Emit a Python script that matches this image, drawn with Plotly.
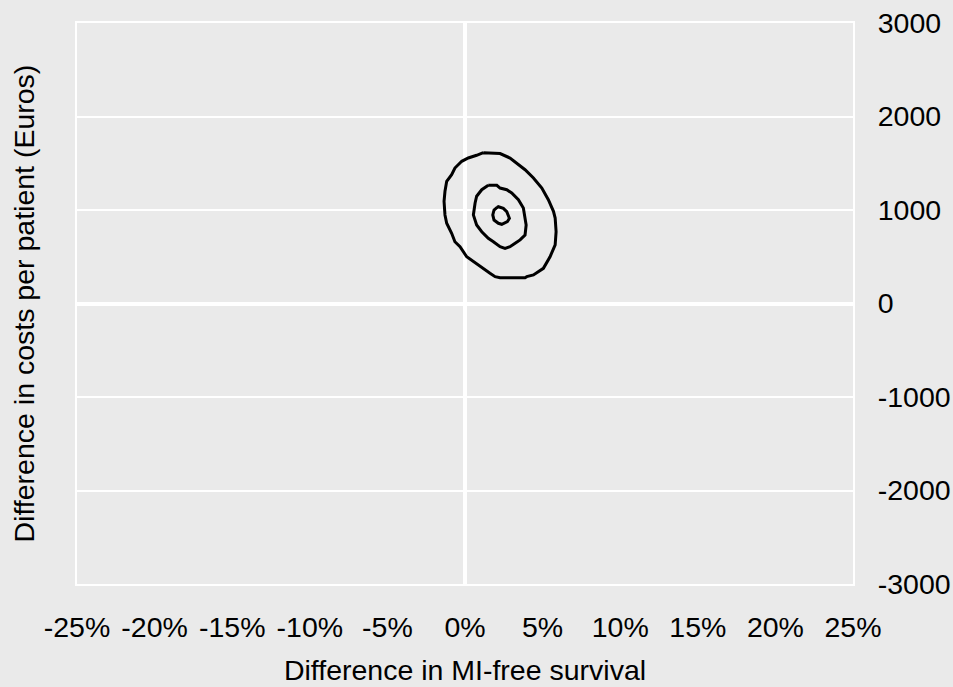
import plotly.graph_objects as go

# Confidence-region contours of the cost-effectiveness plane
# (difference in MI-free survival in %, difference in costs in Euros)
outer_x = [1.18, 1.61, 2.26, 2.90, 3.34, 3.87, 4.41, 4.95, 5.37, 5.70, 5.81, 5.87,
           5.81, 5.48, 5.05, 4.41, 3.98, 3.87, 2.26, 1.94, 1.61, 1.08, 0.54, 0.11,
           -0.32, -0.65, -0.86, -1.18, -1.29, -1.35, -1.29, -1.18, -0.86, -0.65,
           -0.21, 0.21, 0.75, 1.18]
outer_y = [1613, 1610, 1604, 1556, 1503, 1431, 1342, 1235, 1110, 986, 914, 768,
           626, 500, 376, 305, 287, 276, 276, 287, 323, 383, 447, 500,
           607, 661, 751, 858, 947, 1093, 1200, 1307, 1378, 1449,
           1521, 1556, 1585, 1613]

middle_x = [1.50, 2.05, 2.26, 2.69, 3.01, 3.44, 3.76, 3.87, 3.94, 3.87, 3.55, 3.23,
            2.90, 2.58, 2.26, 1.83, 1.50, 1.08, 0.75, 0.54, 0.58, 0.65, 0.75, 1.08, 1.50]
middle_y = [1264, 1264, 1235, 1217, 1182, 1110, 1021, 914, 840, 733, 680, 644,
            607, 590, 607, 661, 697, 768, 840, 947, 1003, 1075, 1147, 1217, 1264]

inner_x = [2.05, 2.15, 2.47, 2.69, 2.86, 2.73, 2.37, 2.15, 1.87, 1.79, 1.87, 2.05]
inner_y = [1025, 1035, 1018, 982, 911, 875, 847, 858, 893, 947, 1000, 1025]

x_ticks = [-25, -20, -15, -10, -5, 0, 5, 10, 15, 20, 25]
x_tick_labels = ["-25%", "-20%", "-15%", "-10%", "-5%", "0%", "5%", "10%", "15%", "20%", "25%"]
y_ticks = [-3000, -2000, -1000, 0, 1000, 2000, 3000]
y_tick_labels = ["-3000", "-2000", "-1000", "0", "1000", "2000", "3000"]

BG = "#eaeaea"
FONT = "Liberation Sans, Arial, sans-serif"
SIZE = 28.5

fig = go.Figure()
for xs, ys in [(outer_x, outer_y), (middle_x, middle_y), (inner_x, inner_y)]:
    fig.add_trace(go.Scatter(x=xs, y=ys, mode="lines",
                             line=dict(color="black", width=3),
                             showlegend=False, hoverinfo="skip"))

fig.update_layout(
    width=953, height=687,
    margin=dict(l=77, r=100, t=23, b=103),
    paper_bgcolor=BG, plot_bgcolor=BG,
    font=dict(family=FONT, size=SIZE, color="black"),
    showlegend=False,
    xaxis=dict(
        range=[-25, 25], tickvals=x_ticks, ticktext=x_tick_labels,
        showgrid=False, zeroline=True, zerolinecolor="white", zerolinewidth=4,
        showline=True, mirror=True, linecolor="white", linewidth=2,
        ticks="", ticklabelstandoff=17, automargin=False,
        title=dict(text="Difference in MI-free survival", standoff=18,
                   font=dict(size=SIZE)),
    ),
    yaxis=dict(
        range=[-3000, 3000], tickvals=y_ticks, ticktext=y_tick_labels, side="right",
        showgrid=True, gridcolor="white", gridwidth=2,
        zeroline=True, zerolinecolor="white", zerolinewidth=4,
        showline=True, mirror=True, linecolor="white", linewidth=2,
        ticks="", ticklabelstandoff=17, automargin=False,
    ),
    annotations=[dict(
        text="Difference in costs per patient (Euros)",
        x=0, xref="paper", xanchor="center",
        y=0.5, yref="paper", yanchor="middle",
        textangle=-90, showarrow=False, font=dict(size=SIZE),
        xshift=-54,
    )],
)

fig.write_html("out.html")
